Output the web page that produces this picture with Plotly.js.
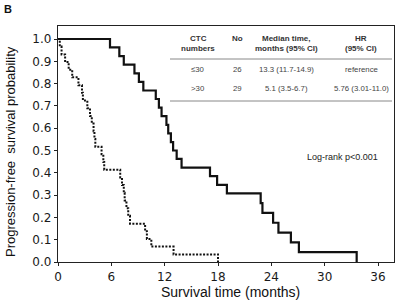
<!DOCTYPE html>
<html>
<head>
<meta charset="utf-8">
<script src="https://cdn.plot.ly/plotly-3.0.1.min.js"></script>
<style>
  html, body { margin: 0; padding: 0; background: #fff; }
  #chart { width: 398px; height: 305px; }
</style>
</head>
<body>
<div id="chart"></div>
<script>
// ---- Data ----
// Group CTC <= 30 (n = 26), solid line
const lowTimes = [0, 5.85, 6.9, 7.4, 8.6, 9.1, 9.6, 11.0, 11.35, 11.65, 12.2, 12.4, 12.7, 12.95, 13.35, 13.9, 17.1, 17.9, 19.0, 22.8, 23.0, 24.2, 24.8, 26.2, 27.1, 33.6];
const lowSurv  = [1.0, 0.962, 0.923, 0.885, 0.846, 0.808, 0.769, 0.731, 0.692, 0.654, 0.615, 0.577, 0.538, 0.500, 0.462, 0.423, 0.385, 0.346, 0.308, 0.264, 0.220, 0.176, 0.132, 0.088, 0.044, 0.0];
// Group CTC > 30 (n = 29), dotted line
const highTimes = [0, 0.2, 0.4, 0.8, 1.2, 1.6, 2.3, 2.7, 2.8, 3.3, 3.6, 3.8, 4.0, 4.1, 4.2, 4.9, 5.1, 5.2, 7.0, 7.2, 7.4, 7.5, 7.7, 7.9, 8.1, 9.8, 10.0, 10.5, 13.0, 18.0];
const highSurv  = [1.0, 0.966, 0.931, 0.897, 0.862, 0.828, 0.793, 0.759, 0.724, 0.690, 0.655, 0.621, 0.586, 0.552, 0.517, 0.483, 0.448, 0.414, 0.379, 0.345, 0.310, 0.276, 0.241, 0.207, 0.172, 0.138, 0.103, 0.069, 0.034, 0.0];

const xTicks = [0, 6, 12, 18, 24, 30, 36];
const yTicks = [0, 0.1, 0.2, 0.3, 0.4, 0.5, 0.6, 0.7, 0.8, 0.9, 1.0];
const yTickText = ["0.0", "0.1", "0.2", "0.3", "0.4", "0.5", "0.6", "0.7", "0.8", "0.9", "1.0"];

// Inset table
const tableHeader1 = ["CTC", "No", "Median time,", "HR"];
const tableHeader2 = ["numbers", "", "months (95% CI)", "(95% CI)"];
const tableRow1 = ["\u226430", "26", "13.3 (11.7-14.9)", "reference"];
const tableRow2 = [">30", "29", "5.1 (3.5-6.7)", "5.76 (3.01-11.0)"];
const logRankText = "Log-rank p<0.001";

// ---- Layout geometry (pixels) ----
const W = 398, H = 305;
const M = { l: 58, r: 4, t: 26, b: 43 };
const PW = W - M.l - M.r, PH = H - M.t - M.b;
const px2x = p => (p - M.l) / PW;
const py2y = p => (H - M.b - p) / PH;

const colX = [198, 237, 286, 361];
const FONT = "Liberation Sans, Arial, sans-serif";

const annotations = [];
function addText(text, xp, yp, size, bold, color) {
  annotations.push({
    text: bold ? "<b>" + text + "</b>" : text,
    xref: "paper", yref: "paper",
    x: px2x(xp), y: py2y(yp),
    xanchor: "center", yanchor: "middle",
    showarrow: false,
    font: { family: FONT, size: size, color: color }
  });
}
for (let i = 0; i < 4; i++) {
  addText(tableHeader1[i], colX[i], 39, 8, true, "#333");
  if (tableHeader2[i]) addText(tableHeader2[i], colX[i], 49, 8, true, "#333");
  addText(tableRow1[i], colX[i], 69, 7.8, false, "#444");
  addText(tableRow2[i], colX[i], 88, 7.8, false, "#444");
}
addText(logRankText, 342, 157, 9, false, "#222");

// Axis titles and panel letter
annotations.push({
  text: "Progression-free  survival probability",
  xref: "paper", yref: "paper", x: px2x(10), y: py2y(152),
  xanchor: "center", yanchor: "middle", textangle: -90, showarrow: false,
  font: { family: FONT, size: 13, color: "#111" }
});
annotations.push({
  text: "Survival time (months)",
  xref: "paper", yref: "paper", x: px2x(230), y: py2y(292),
  xanchor: "center", yanchor: "middle", showarrow: false,
  font: { family: FONT, size: 14, color: "#111" }
});
annotations.push({
  text: "<b>B</b>",
  xref: "paper", yref: "paper", x: px2x(8), y: py2y(9),
  xanchor: "center", yanchor: "middle", showarrow: false,
  font: { family: FONT, size: 11, color: "#111" }
});

const shapes = [
  { type: "line", xref: "paper", yref: "paper", x0: px2x(170), x1: px2x(392), y0: py2y(59), y1: py2y(59), line: { color: "#888", width: 1 } },
  { type: "line", xref: "paper", yref: "paper", x0: px2x(170), x1: px2x(392), y0: py2y(101), y1: py2y(101), line: { color: "#888", width: 1 } }
];

const traces = [
  { x: highTimes, y: highSurv, type: "scatter", mode: "lines", line: { shape: "hv", color: "#111", width: 2, dash: "2px,1.5px" }, hoverinfo: "skip" },
  { x: lowTimes, y: lowSurv, type: "scatter", mode: "lines", line: { shape: "hv", color: "#111", width: 2.2 }, hoverinfo: "skip" }
];

const tickFont = { family: "DejaVu Sans, sans-serif", size: 12, color: "#1a1a1a" };

const layout = {
  width: W, height: H,
  margin: M,
  paper_bgcolor: "#fff", plot_bgcolor: "#fff",
  showlegend: false,
  xaxis: {
    range: [0, (W - M.r - M.l) / ((378 - 58) / 36)],
    tickvals: xTicks, ticktext: xTicks.map(String),
    ticks: "outside", ticklen: 3, tickwidth: 1, tickcolor: "#222",
    showline: true, linecolor: "#222", linewidth: 1.2, mirror: true,
    showgrid: false, zeroline: false,
    tickfont: tickFont
  },
  yaxis: {
    range: [0, 1 + (262 - 26 - 223) / 223],
    tickvals: yTicks, ticktext: yTickText,
    ticks: "outside", ticklen: 3, tickwidth: 1, tickcolor: "#222",
    showline: true, linecolor: "#222", linewidth: 1.2, mirror: true,
    showgrid: false, zeroline: false,
    tickfont: tickFont
  },
  annotations: annotations,
  shapes: shapes
};

Plotly.newPlot("chart", traces, layout, { staticPlot: true, displayModeBar: false });
</script>
</body>
</html>
